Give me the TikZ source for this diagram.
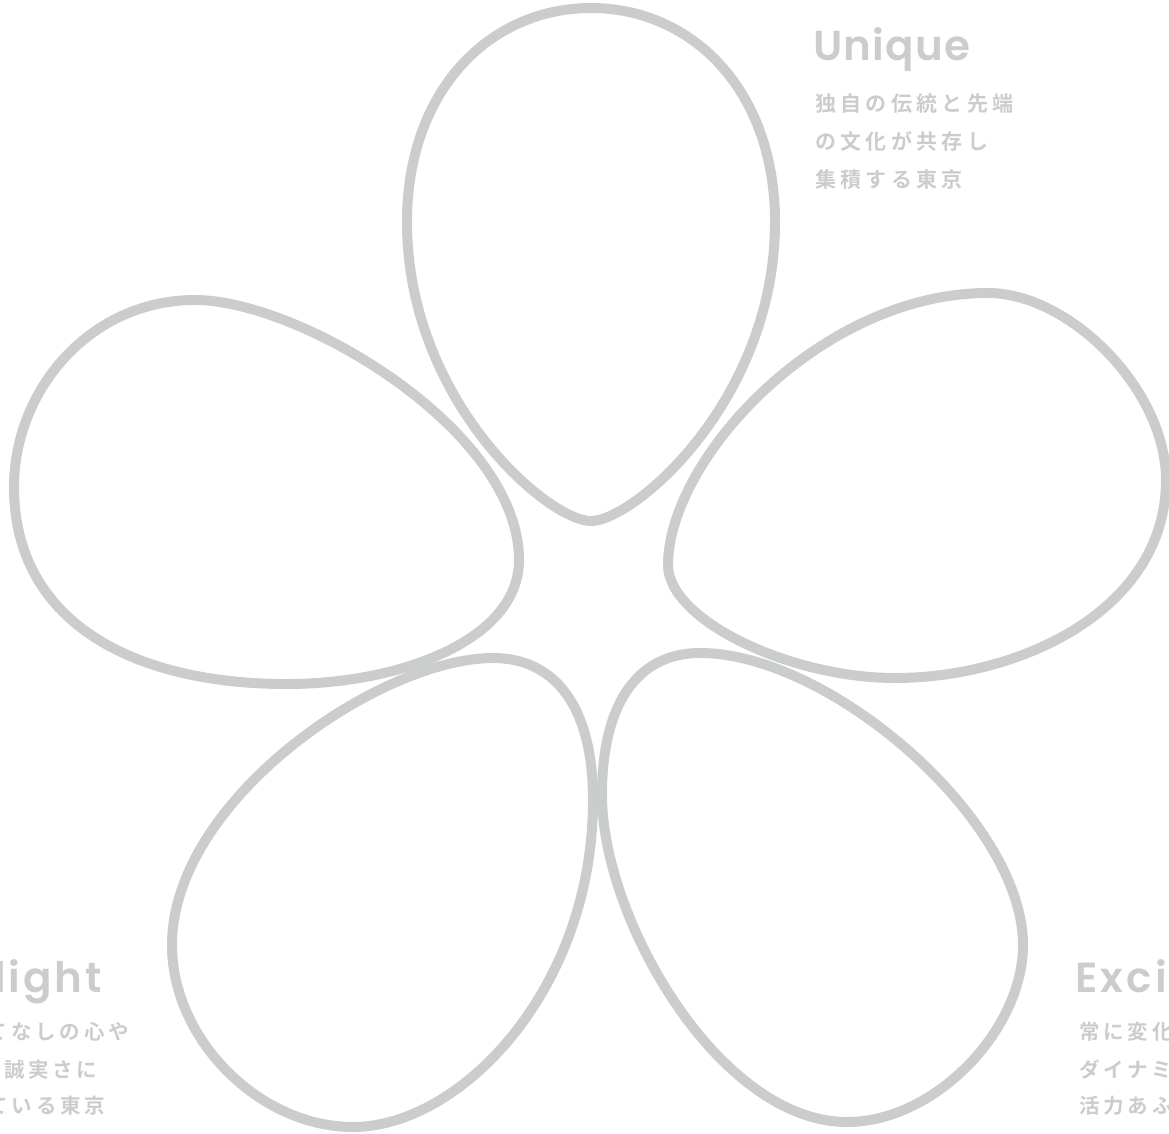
\documentclass[tikz,border=0pt]{standalone}
\usepackage{fontspec}
\newfontfamily\latfont{Poppins SemiBold}
\newfontfamily\jpfont{Noto Sans CJK JP Bold}
\definecolor{petalgray}{RGB}{203,205,204}
\definecolor{textgray}{RGB}{203,205,204}
\tikzset{
  petal/.style={draw=petalgray, line width=10pt, line join=round, line cap=round},
  title/.style={inner sep=0pt, text=textgray, font=\latfont\fontsize{42}{42}\selectfont},
  jpA/.style={inner sep=0pt, anchor=base west, text=textgray, font=\jpfont\fontsize{21}{21}\selectfont\addfontfeatures{LetterSpace=20.5}},
  jpB/.style={inner sep=0pt, anchor=base west, text=textgray, font=\jpfont\fontsize{20.5}{20.5}\selectfont\addfontfeatures{LetterSpace=18.5}}
}
\begin{document}
\begin{tikzpicture}[x=1pt,y=-1pt]
\useasboundingbox (0,0) rectangle (1169,1133);
\clip (0,0) rectangle (1169,1133);
% top petal
\draw[petal] (591,521) .. controls (548,521) and (407,400) .. (407,222)
  .. controls (407,90) and (490,8) .. (591,8)
  .. controls (692,8) and (775,90) .. (775,222)
  .. controls (775,400) and (634,521) .. (591,521) -- cycle;
% left petal
\draw[petal] (195,300) .. controls (300,300) and (519,430) .. (519,560)
  .. controls (519,640) and (400,684) .. (287,684)
  .. controls (130,684) and (14,620) .. (14,487)
  .. controls (14,390) and (90,300) .. (195,300) -- cycle;
% right petal
\draw[petal] (988,293) .. controls (1070,293) and (1166,390) .. (1166,480)
  .. controls (1166,610) and (1020,678) .. (895,678)
  .. controls (790,678) and (668,620) .. (668,565)
  .. controls (668,460) and (820,293) .. (988,293) -- cycle;
% bottom-left petal
\draw[petal] (493,658) .. controls (554,658) and (593,705) .. (593,800)
  .. controls (593,990) and (460,1127) .. (353,1127)
  .. controls (260,1127) and (172,1040) .. (172,945)
  .. controls (172,800) and (380,658) .. (493,658) -- cycle;
% bottom-right petal
\draw[petal] (700,653) .. controls (830,653) and (1023,820) .. (1023,945)
  .. controls (1023,1030) and (935,1122) .. (847,1122)
  .. controls (720,1122) and (602,920) .. (602,795)
  .. controls (602,700) and (640,653) .. (700,653) -- cycle;
% Unique
\node[title, anchor=base west, font=\latfont\fontsize{42}{42}\selectfont\addfontfeatures{LetterSpace=3}] (unique) at (813,60) {Unique};
\node[jpA] (u1) at (815,111.5) {独自の伝統と先端};
\node[jpA] (u2) at (815,149.5) {の文化が共存し};
\node[jpA] (u3) at (815,187) {集積する東京};
% Delight
\node[title, anchor=base east, font=\latfont\fontsize{42}{42}\selectfont\addfontfeatures{LetterSpace=7}] (delight) at (102,992) {Delight};
\node[jpB] (d1) at (-61,1039.5) {おもてなしの心や};
\node[jpB] (d2) at (-69,1077) {人々の誠実さに};
\node[jpB] (d3) at (-85,1113.7) {あふれている東京};
% Exciting
\node[title, anchor=base west, font=\latfont\fontsize{42}{42}\selectfont\addfontfeatures{LetterSpace=8}] (exciting) at (1075,992) {Exciting};
\node[jpB] (e1) at (1079,1039.5) {常に変化し続ける};
\node[jpB] (e2) at (1079,1077) {ダイナミックで};
\node[jpB] (e3) at (1079,1113.7) {活力あふれる東京};
\end{tikzpicture}
\end{document}
